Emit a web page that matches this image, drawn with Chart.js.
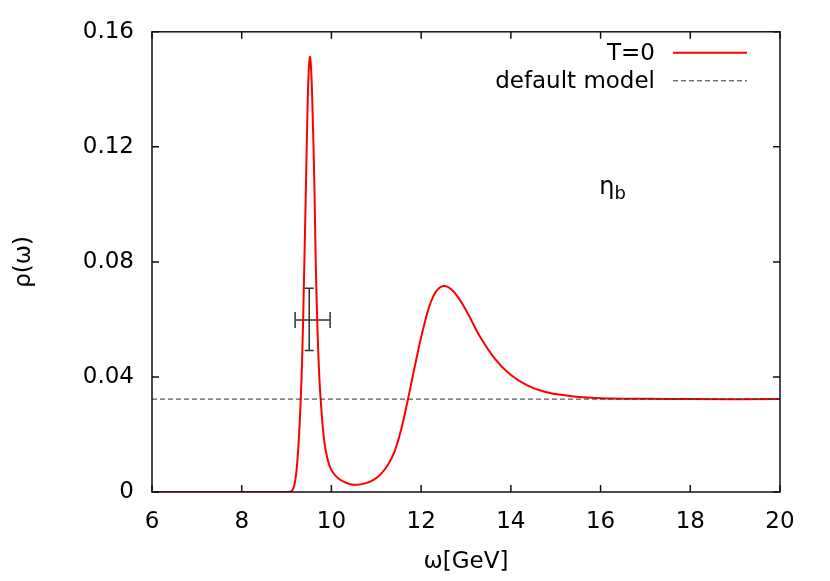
<!DOCTYPE html>
<html>
<head>
<meta charset="utf-8">
<script src="https://cdn.jsdelivr.net/npm/chart.js@4.4.1/dist/chart.umd.min.js"></script>
<style>
  body { margin: 0; background: #fff; }
  #wrap { width: 830px; height: 581px; }
</style>
</head>
<body>
<div id="wrap"><canvas id="chart" width="830" height="581"></canvas></div>
<script>
// spectral function at T=0
const omega = [6, 7, 8, 8.5, 9.0, 9.11, 9.17, 9.22, 9.27, 9.31, 9.35, 9.39, 9.43, 9.46, 9.49, 9.52,
  9.55, 9.58, 9.62, 9.65, 9.69, 9.73, 9.77, 9.82, 9.88, 9.96, 10.04, 10.15, 10.27, 10.4, 10.56,
  10.75, 10.95, 11.1, 11.25, 11.4, 11.55, 11.7, 11.85, 12.05, 12.27, 12.49, 12.72, 13.0, 13.3,
  13.65, 14.0, 14.4, 14.8, 15.2, 15.6, 16, 17, 18, 20];
const rho = [0, 0, 0, 0, 0, 0.0003, 0.0022, 0.0072, 0.0175, 0.0300, 0.0480, 0.0750, 0.1050, 0.1280, 0.1450, 0.1513,
  0.1460, 0.1320, 0.1070, 0.0800, 0.0560, 0.0400, 0.0300, 0.0205, 0.0138, 0.0090, 0.0066, 0.0048, 0.0036, 0.0028, 0.0025,
  0.0030, 0.0043, 0.0062, 0.0092, 0.0138, 0.0215, 0.0318, 0.0430, 0.0570, 0.0680, 0.0716, 0.0697, 0.0632, 0.0543,
  0.0462, 0.0407, 0.0368, 0.0347, 0.0336, 0.0329, 0.0326, 0.0324, 0.0323, 0.0323];

// default model (flat)
const defaultOmega = [6, 20];
const defaultRho = [0.0323, 0.0323];

// error bar on the ground state
const errOmega = [9.505];
const errRho = [0.0598];
const errOmegaLow = [9.19];
const errOmegaHigh = [9.97];
const errRhoLow = [0.0492];
const errRhoHigh = [0.0708];

const xTicks = [6, 8, 10, 12, 14, 16, 18, 20];
const yTicks = [0, 0.04, 0.08, 0.12, 0.16];
const yTickLabels = ["0", "0.04", "0.08", "0.12", "0.16"];

const seriesLabels = ["T=0", "default model"];

const FONT = "'DejaVu Sans', sans-serif";

function toPoints(xs, ys) {
  let res = [];
  for (let i = 0; i < xs.length; i++) res.push({ x: xs[i], y: ys[i] });
  return res;
}

// frame + inward ticks on all sides, like gnuplot
const framePlugin = {
  id: "frame",
  afterDraw(chart) {
    const ctx = chart.ctx;
    const a = chart.chartArea;
    const xs = chart.scales.x, ys = chart.scales.y;
    ctx.save();
    ctx.strokeStyle = "#111";
    ctx.lineWidth = 1.5;
    ctx.strokeRect(a.left, a.top, a.right - a.left, a.bottom - a.top);
    const tl = 7;
    ctx.beginPath();
    for (let v of xTicks) {
      const px = xs.getPixelForValue(v);
      ctx.moveTo(px, a.bottom); ctx.lineTo(px, a.bottom - tl);
      ctx.moveTo(px, a.top); ctx.lineTo(px, a.top + tl);
    }
    for (let v of yTicks) {
      const py = ys.getPixelForValue(v);
      ctx.moveTo(a.left, py); ctx.lineTo(a.left + tl, py);
      ctx.moveTo(a.right, py); ctx.lineTo(a.right - tl, py);
    }
    ctx.stroke();

    // legend, top right
    const ds = chart.data.datasets;
    const rows = [{ i: 1, y: a.top + 21 }, { i: 0, y: a.top + 49 }];
    ctx.font = "23px " + FONT;
    ctx.textAlign = "right";
    ctx.textBaseline = "middle";
    ctx.fillStyle = "#000";
    for (let r of rows) {
      const d = ds[r.i];
      ctx.fillText(d.label, a.right - 125, r.y + 1);
      ctx.beginPath();
      ctx.strokeStyle = d.borderColor;
      ctx.lineWidth = d.borderWidth;
      ctx.setLineDash(d.borderDash || []);
      ctx.moveTo(a.right - 107, r.y);
      ctx.lineTo(a.right - 33, r.y);
      ctx.stroke();
    }
    ctx.setLineDash([]);

    // eta_b label
    const lx = xs.getPixelForValue(15.97), ly = ys.getPixelForValue(0.1035);
    ctx.textAlign = "left";
    ctx.textBaseline = "alphabetic";
    ctx.font = "24px " + FONT;
    ctx.fillText("η", lx, ly);
    const w = ctx.measureText("η").width;
    ctx.font = "18px " + FONT;
    ctx.fillText("b", lx + w, ly + 5);
    ctx.restore();
  },
  beforeDatasetsDraw(chart) {
    const ctx = chart.ctx;
    const xs = chart.scales.x, ys = chart.scales.y;
    ctx.save();
    ctx.strokeStyle = "#333";
    ctx.lineWidth = 1.5;
    ctx.beginPath();
    for (let i = 0; i < errOmega.length; i++) {
      const cx = xs.getPixelForValue(errOmega[i]);
      const cy = ys.getPixelForValue(errRho[i]);
      const x0 = xs.getPixelForValue(errOmegaLow[i]);
      const x1 = xs.getPixelForValue(errOmegaHigh[i]);
      const y0 = ys.getPixelForValue(errRhoLow[i]);
      const y1 = ys.getPixelForValue(errRhoHigh[i]);
      ctx.moveTo(x0, cy); ctx.lineTo(x1, cy);
      ctx.moveTo(x0, cy - 8); ctx.lineTo(x0, cy + 8);
      ctx.moveTo(x1, cy - 8); ctx.lineTo(x1, cy + 8);
      ctx.moveTo(cx, y0); ctx.lineTo(cx, y1);
      ctx.moveTo(cx - 4.5, y0); ctx.lineTo(cx + 4.5, y0);
      ctx.moveTo(cx - 4.5, y1); ctx.lineTo(cx + 4.5, y1);
    }
    ctx.stroke();
    ctx.restore();
  }
};

new Chart(document.getElementById("chart"), {
  type: "line",
  data: {
    datasets: [
      {
        label: seriesLabels[1],
        data: toPoints(defaultOmega, defaultRho),
        borderColor: "#333333",
        borderWidth: 1,
        borderDash: [5, 3],
        pointRadius: 0,
        fill: false,
        order: 0
      },
      {
        label: seriesLabels[0],
        data: toPoints(omega, rho),
        borderColor: "#ff0000",
        borderWidth: 2,
        pointRadius: 0,
        fill: false,
        tension: 0.4,
        order: 1
      }
    ]
  },
  options: {
    responsive: false,
    animation: false,
    events: [],
    layout: { padding: { top: 28, right: 50, left: 0, bottom: 0 } },
    plugins: { legend: { display: false }, tooltip: { enabled: false } },
    scales: {
      x: {
        type: "linear",
        min: 6,
        max: 20,
        afterFit(scale) { scale.height = 89; },
        afterBuildTicks(scale) { scale.ticks = xTicks.map(v => ({ value: v })); },
        grid: { display: false, drawTicks: false },
        border: { display: false },
        ticks: {
          padding: 16,
          color: "#000",
          font: { family: FONT, size: 23 },
          maxRotation: 0,
          autoSkip: false
        },
        title: {
          display: true,
          text: "ω[GeV]",
          color: "#000",
          font: { family: FONT, size: 23 },
          padding: { top: 0, bottom: 5 }
        }
      },
      y: {
        type: "linear",
        min: 0,
        max: 0.16,
        afterFit(scale) { scale.width = 152; },
        afterBuildTicks(scale) { scale.ticks = yTicks.map(v => ({ value: v })); },
        grid: { display: false, drawTicks: false },
        border: { display: false },
        ticks: {
          padding: 18,
          color: "#000",
          font: { family: FONT, size: 23 },
          autoSkip: false,
          callback: (v) => yTickLabels[yTicks.indexOf(v)]
        },
        title: {
          display: true,
          text: "ρ(ω)",
          color: "#000",
          font: { family: FONT, size: 23 },
          padding: { top: 10, bottom: 0 }
        }
      }
    }
  },
  plugins: [framePlugin]
});
</script>
</body>
</html>
